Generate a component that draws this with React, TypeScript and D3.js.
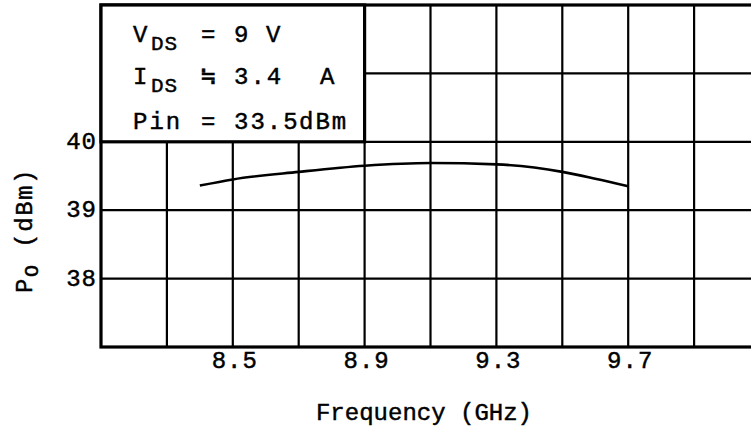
import { useEffect, useRef } from "react";
import * as d3 from "d3";

// measured curve, Po vs frequency
const freqGHz = [8.4, 8.5, 8.7, 8.9, 9.1, 9.3, 9.5, 9.6, 9.7];
const poDbm = [39.36, 39.45, 39.56, 39.65, 39.69, 39.67, 39.56, 39.46, 39.35];

const xTickLabels = [8.5, 8.9, 9.3, 9.7];
const yTickLabels = [38, 39, 40];
const xGridLines = [8.3, 8.5, 8.7, 8.9, 9.1, 9.3, 9.5, 9.7, 9.9];
const yGridLines = [38, 39, 40, 41];

const conditionLines = [
  { main: "V", sub: "DS", rel: "=", value: "9", unit: "V" },
  { main: "I", sub: "DS", rel: "≒", value: "3.4", unit: "A" },
  { main: "Pin", sub: "", rel: "=", value: "33.5", unit: "dBm" },
];

const W = 751;
const H = 434;
const FONT = "'Liberation Mono', 'Courier New', monospace";

export default function App() {
  const svgRef = useRef<SVGSVGElement>(null);

  useEffect(() => {
    draw();
  }, []);

  function draw() {
    const svg = d3.select(svgRef.current);
    svg.selectAll("*").remove();
    svg.attr("width", W).attr("height", H);

    svg.append("rect").attr("width", W).attr("height", H).attr("fill", "white");

    const x = d3.scaleLinear().domain([8.1, 10.1]).range([101, 760]);
    const y = d3.scaleLinear().domain([37, 42]).range([347, 5]);

    const g = svg.append("g");

    // grid
    g.selectAll("line.vg")
      .data(xGridLines)
      .join("line")
      .attr("x1", d => x(d))
      .attr("x2", d => x(d))
      .attr("y1", y(42))
      .attr("y2", y(37))
      .attr("stroke", "#000")
      .attr("stroke-width", 2.2);

    g.selectAll("line.hg")
      .data(yGridLines)
      .join("line")
      .attr("x1", x(8.1))
      .attr("x2", x(10.1))
      .attr("y1", d => y(d))
      .attr("y2", d => y(d))
      .attr("stroke", "#000")
      .attr("stroke-width", 2.2);

    // curve
    const pts = freqGHz.map((f, i) => [f, poDbm[i]] as [number, number]);
    const line = d3.line<[number, number]>()
      .x(d => x(d[0]))
      .y(d => y(d[1]))
      .curve(d3.curveMonotoneX);

    g.append("path")
      .attr("d", line(pts))
      .attr("fill", "none")
      .attr("stroke", "#000")
      .attr("stroke-width", 2.6);

    // frame
    g.append("rect")
      .attr("x", x(8.1))
      .attr("y", y(42))
      .attr("width", x(10.1) - x(8.1))
      .attr("height", y(37) - y(42))
      .attr("fill", "none")
      .attr("stroke", "#000")
      .attr("stroke-width", 3.2);

    // conditions box
    g.append("rect")
      .attr("x", x(8.1))
      .attr("y", y(42))
      .attr("width", x(8.9) - x(8.1))
      .attr("height", y(40) - y(42))
      .attr("fill", "white")
      .attr("stroke", "#000")
      .attr("stroke-width", 3.2);

    const textStyle = (sel: any, size: number, spacing: number) =>
      sel
        .style("font-family", FONT)
        .style("font-size", `${size}px`)
        .style("letter-spacing", `${spacing}px`)
        .attr("fill", "#000")
        .attr("stroke", "#000")
        .attr("stroke-width", 0.45);

    const baselines = [42, 84, 129];
    conditionLines.forEach((c, i) => {
      const t = textStyle(g.append("text").attr("y", baselines[i]), 24, 2);
      t.append("tspan").attr("x", 133).text(c.main);
      if (c.sub) {
        t.append("tspan")
          .attr("x", 151)
          .attr("dy", 8)
          .style("font-size", "21px")
          .style("letter-spacing", "1px")
          .text(c.sub);
      }
      t.append("tspan").attr("x", 201).attr("y", baselines[i]).text(c.rel);
      t.append("tspan").attr("x", 234).attr("y", baselines[i]).text(c.value);
      const unitX = c.unit === "dBm" ? 299 : c.unit === "A" ? 320 : 266;
      t.append("tspan").attr("x", unitX).attr("y", baselines[i]).text(c.unit);
    });

    // y tick labels
    textStyle(
      g.selectAll("text.yt")
        .data(yTickLabels)
        .join("text")
        .attr("x", 97)
        .attr("y", d => y(d) + 7)
        .attr("text-anchor", "end"),
      24, 1
    ).text(d => d);

    // x tick labels
    textStyle(
      g.selectAll("text.xt")
        .data(xTickLabels)
        .join("text")
        .attr("x", d => x(d) + 2)
        .attr("y", 368)
        .attr("text-anchor", "middle"),
      24, 1
    ).text(d => d.toFixed(1));

    // axis titles
    textStyle(
      svg.append("text")
        .attr("x", 424)
        .attr("y", 420)
        .attr("text-anchor", "middle"),
      24, 0
    ).text("Frequency (GHz)");

    const yt = textStyle(
      svg.append("text").attr("transform", "translate(32,293) rotate(-90)"),
      24, 1.5
    );
    yt.append("tspan").text("P");
    yt.append("tspan").attr("dy", 6).style("font-size", "20px").text("O");
    yt.append("tspan").attr("dy", -6).text("  (dBm)");
  }

  return (
    <div style={{ position: "absolute", left: 0, top: 0, width: W, height: H, overflow: "hidden", background: "white" }}>
      <svg ref={svgRef} style={{ display: "block" }}></svg>
    </div>
  );
}
